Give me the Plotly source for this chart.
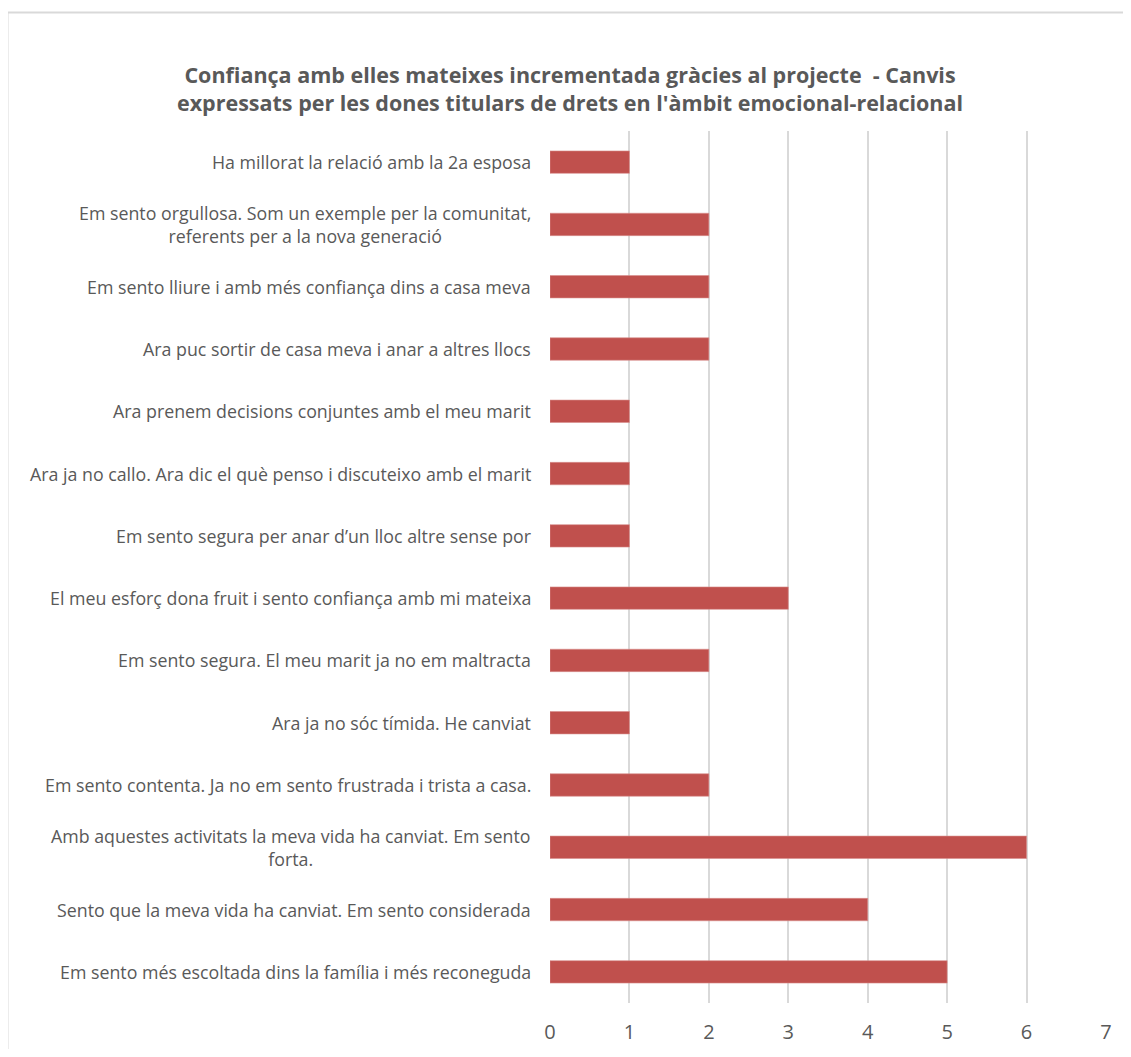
import plotly.graph_objects as go

categories = [
    "Em sento més escoltada dins la família i més reconeguda",
    "Sento que la meva vida ha canviat. Em sento considerada",
    "Amb aquestes activitats la meva vida ha canviat. Em sento<br>forta.",
    "Em sento contenta. Ja no em sento frustrada i trista a casa.",
    "Ara ja no sóc tímida. He canviat",
    "Em sento segura. El meu marit ja no em maltracta",
    "El meu esforç dona fruit i sento confiança amb mi mateixa",
    "Em sento segura per anar d’un lloc altre sense por",
    "Ara ja no callo. Ara dic el què penso i discuteixo amb el marit",
    "Ara prenem decisions conjuntes amb el meu marit",
    "Ara puc sortir de casa meva i anar a altres llocs",
    "Em sento lliure i amb més confiança dins a casa meva",
    "Em sento orgullosa. Som un exemple per la comunitat,<br>referents per a la nova generació",
    "Ha millorat la relació amb la 2a esposa",
]
values = [5, 4, 6, 2, 1, 2, 3, 1, 1, 1, 2, 2, 2, 1]
x_ticks = [0, 1, 2, 3, 4, 5, 6, 7]

TITLE = ("Confiança amb elles mateixes incrementada gràcies al projecte  - Canvis<br>"
         "expressats per les dones titulars de drets en l'àmbit emocional-relacional")

FONT = "Open Sans"
GREY = "#595959"

W, H = 1115, 1041          # page body has an 8px margin on every side
ML, MR, MT, MB = 542, 17, 123, 46
PW, PH = W - ML - MR, H - MT - MB


def px_x(sx):  # screen px -> paper x
    return (sx - 8 - ML) / PW


def px_y(sy):  # screen px -> paper y
    return (H - MB - (sy - 8)) / PH


fig = go.Figure(go.Bar(
    x=values,
    y=list(range(len(categories))),
    orientation="h",
    marker=dict(color="#C0504D", line=dict(color="#D98F8D", width=0.6)),
    width=0.36,
    hoverinfo="x",
))

annotations = []
for i, cat in enumerate(categories):
    annotations.append(dict(
        x=0, y=i, xref="x", yref="y", text=cat, showarrow=False,
        xanchor="right", yanchor="middle", align="center", xshift=-17,
        font=dict(family=FONT, size=17.8, color=GREY),
    ))

fig.update_layout(
    width=W, height=H,
    margin=dict(l=ML, r=MR, t=MT, b=MB, autoexpand=False),
    paper_bgcolor="white", plot_bgcolor="white",
    title=dict(text=TITLE, x=(570 - 8) / W, xanchor="center",
               y=1 - (83 - 8) / H, yanchor="middle",
               font=dict(family=FONT, size=21.5, color=GREY, weight="bold")),
    showlegend=False,
    annotations=annotations,
    xaxis=dict(range=[0, 7], tickvals=x_ticks, showgrid=True, gridcolor="#d9d9d9",
               gridwidth=1.5, zeroline=False, showline=False, automargin=False,
               ticks="outside", ticklen=11, tickcolor="rgba(0,0,0,0)",
               tickfont=dict(family=FONT, size=20, color=GREY), fixedrange=True),
    yaxis=dict(range=[-0.5, len(categories) - 0.5], showticklabels=False,
               showgrid=False, zeroline=False, fixedrange=True, automargin=False),
    shapes=[dict(type="rect", xref="paper", yref="paper",
                 x0=px_x(7.5), x1=px_x(1145),
                 y0=px_y(1075), y1=px_y(12.5),
                 line=dict(color="#d9d9d9", width=2), fillcolor="rgba(0,0,0,0)",
                 layer="below")],
)

fig.write_html("out.html")
